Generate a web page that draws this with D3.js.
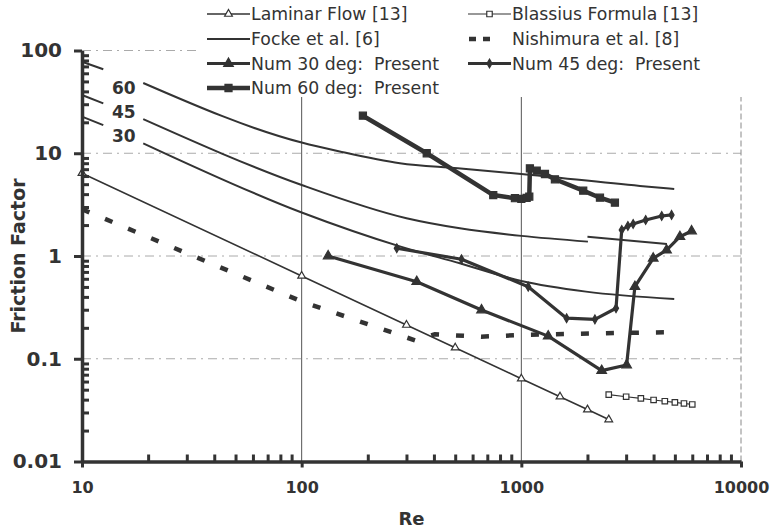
<!DOCTYPE html>
<html>
<head>
<meta charset="utf-8">
<script src="https://cdn.jsdelivr.net/npm/d3@7"></script>
<style>
  body { margin: 0; background: #fff; }
  text { font-family: "DejaVu Sans", sans-serif; fill: #333; }
</style>
</head>
<body>
<div id="chart"></div>
<script>
// data (Re, friction factor)
const reLaminar = [10, 100, 300, 500, 1000, 1500, 2000, 2500];
const fLaminar = [6.4, 0.64, 0.213, 0.128, 0.064, 0.0427, 0.032, 0.0256];

const reBlasius = [2500, 3000, 3500, 4000, 4500, 5000, 5500, 6000];
const fBlasius = [0.0447, 0.0427, 0.0411, 0.0397, 0.0386, 0.0376, 0.0367, 0.0359];

// null = break in the line (label sits there)
const reFocke60 = [10, 12.5, 15, 19, 100, 149, 280, 514, 1000, 3467, 4966];
const fFocke60 = [77.8, 65.6, null, 48.3, 12.7, 10.4, 7.99, 7.14, 6.28, 4.8, 4.49];
const reFocke45 = [10, 12.5, 15, 19, 100, 300, 525, 1000, 2010];
const fFocke45 = [36.9, 30.6, null, 21.5, 4.91, 2.33, 1.86, 1.57, 1.38];
const reFocke45b = [2000, 4600];
const fFocke45b = [1.54, 1.31];
const reFocke30 = [10, 12.5, 15, 19, 100, 280, 525, 1000, 1970, 4966];
const fFocke30 = [22.7, 18.8, null, 12.5, 2.65, 1.24, 0.849, 0.571, 0.45, 0.382];

const reNishimura = [10, 83, 100, 328, 404, 656, 1050, 2717, 4745];
const fNishimura = [2.85, 0.427, 0.361, 0.151, 0.173, 0.164, 0.171, 0.178, 0.181];

const reNum30 = [132, 334, 659, 1325, 2321, 3015, 3288, 3984, 4581, 5272, 5957];
const fNum30 = [1.0, 0.562, 0.298, 0.166, 0.0766, 0.0869, 0.503, 0.95, 1.14, 1.54, 1.75];

const reNum45 = [271, 534, 1075, 1607, 2163, 2698, 2864, 3055, 3228, 3681, 4355, 4830];
const fNum45 = [1.19, 0.929, 0.503, 0.248, 0.242, 0.31, 1.79, 1.96, 2.05, 2.24, 2.45, 2.51];

const reNum60 = [190, 371, 745, 935, 1000, 1057, 1087, 1094, 1175, 1281, 1422, 1913, 2280, 2667];
const fNum60 = [23.2, 10.0, 3.92, 3.65, 3.59, 3.67, 3.78, 7.14, 6.77, 6.28, 5.58, 4.32, 3.69, 3.3];

const xTickValues = [10, 100, 1000, 10000];
const xTickLabels = ["10", "100", "1000", "10000"];
const yTickValues = [0.01, 0.1, 1, 10, 100];
const yTickLabels = ["0.01", "0.1", "1", "10", "100"];

const angleLabels = ["60", "45", "30"];
const angleLabelRe = 13.7;
const angleLabelF = [43, 25.4, 14.8];

const W = 773, H = 531;
const margin = { top: 50.5, right: 32, bottom: 69.5, left: 82 };
const width = W - margin.left - margin.right;
const height = H - margin.top - margin.bottom;
const ink = "#333";

const svg = d3.select("#chart").append("svg")
    .attr("width", W)
    .attr("height", H);

const g = svg.append("g")
    .attr("transform", `translate(${margin.left},${margin.top})`);

const x = d3.scaleLog().domain([10, 10000]).range([0, width]);
const y = d3.scaleLog().domain([0.01, 100]).range([height, 0]);

const pts = (re, f) => re.map((r, i) => ({ re: r, f: f[i] }));

// grid
g.selectAll(".hgrid")
    .data(yTickValues.slice(1))
    .enter().append("line")
    .attr("x1", 0).attr("x2", width)
    .attr("y1", d => y(d)).attr("y2", d => y(d))
    .attr("stroke", "#aaa").attr("stroke-width", 1)
    .attr("stroke-dasharray", "9,5,2,5");

g.selectAll(".vgrid")
    .data(xTickValues.slice(1))
    .enter().append("line")
    .attr("x1", d => x(d)).attr("x2", d => x(d))
    .attr("y1", 0).attr("y2", height)
    .attr("stroke", d => d === 10000 ? "#888" : "#555")
    .attr("stroke-width", 1)
    .attr("stroke-dasharray", d => d === 10000 ? "6,3" : null);

// legend box covers the top of the plot
const legendBox = svg.append("g");
legendBox.append("rect")
    .attr("x", 200).attr("y", 0)
    .attr("width", 550).attr("height", 97)
    .attr("fill", "#fff");

const line = d3.line()
    .defined(d => d.f != null)
    .x(d => x(d.re))
    .y(d => y(d.f));

const smooth = d3.line()
    .defined(d => d.f != null)
    .curve(d3.curveMonotoneX)
    .x(d => x(d.re))
    .y(d => y(d.f));

// Focke
[[reFocke60, fFocke60], [reFocke45, fFocke45], [reFocke45b, fFocke45b], [reFocke30, fFocke30]]
    .forEach(([re, f]) => {
        g.append("path")
            .datum(pts(re, f))
            .attr("d", smooth)
            .attr("fill", "none")
            .attr("stroke", ink)
            .attr("stroke-width", 2);
    });

// Nishimura
g.append("path")
    .datum(pts(reNishimura, fNishimura))
    .attr("d", line)
    .attr("fill", "none")
    .attr("stroke", ink)
    .attr("stroke-width", 4.5)
    .attr("stroke-dasharray", "8,17");

// series with markers
const series = [
    { re: reLaminar, f: fLaminar, w: 1.6, sym: d3.symbolTriangle, size: 26, fill: "#fff" },
    { re: reBlasius, f: fBlasius, w: 1.2, sym: d3.symbolSquare, size: 30, fill: "#fff" },
    { re: reNum30, f: fNum30, w: 3.2, sym: d3.symbolTriangle, size: 40, fill: ink },
    { re: reNum45, f: fNum45, w: 3.2, sym: d3.symbolDiamond, size: 22, fill: ink },
    { re: reNum60, f: fNum60, w: 4.5, sym: d3.symbolSquare, size: 50, fill: ink }
];

series.forEach(s => {
    const data = pts(s.re, s.f);
    g.append("path")
        .datum(data)
        .attr("d", line)
        .attr("fill", "none")
        .attr("stroke", ink)
        .attr("stroke-width", s.w)
        .attr("stroke-linejoin", "round");
    g.selectAll(null)
        .data(data)
        .enter().append("path")
        .attr("transform", d => `translate(${x(d.re)},${y(d.f)})`)
        .attr("d", d3.symbol().type(s.sym).size(s.size))
        .attr("fill", s.fill)
        .attr("stroke", ink)
        .attr("stroke-width", 1.2);
});

// angle labels on Focke curves
g.selectAll(".alabel")
    .data(angleLabels)
    .enter().append("text")
    .attr("x", x(angleLabelRe))
    .attr("y", (d, i) => y(angleLabelF[i]))
    .attr("dy", "0.36em")
    .attr("font-size", 17)
    .attr("font-weight", "bold")
    .text(d => d);

// axes
const minorY = y.ticks().filter(v => !yTickValues.includes(v));
const minorX = x.ticks().filter(v => !xTickValues.includes(v));

g.append("g")
    .call(d3.axisLeft(y).tickValues(minorY).tickSize(-7).tickFormat(""))
    .call(a => a.select(".domain").remove())
    .selectAll("line").attr("stroke", ink).attr("stroke-width", 3);

g.append("g")
    .attr("transform", `translate(0,${height})`)
    .call(d3.axisBottom(x).tickValues(minorX).tickSize(-7).tickFormat(""))
    .call(a => a.select(".domain").remove())
    .selectAll("line").attr("stroke", ink).attr("stroke-width", 3);

const yAxis = g.append("g")
    .call(d3.axisLeft(y).tickValues(yTickValues).tickSize(8).tickSizeOuter(0)
        .tickPadding(12).tickFormat((d, i) => yTickLabels[i]));
yAxis.select(".domain").attr("stroke", ink).attr("stroke-width", 3.5);
yAxis.selectAll("line").attr("stroke", ink).attr("stroke-width", 3);
yAxis.selectAll("text")
    .attr("font-size", 20).attr("font-weight", "bold")
    .attr("font-family", "DejaVu Sans").attr("fill", ink);

const xAxis = g.append("g")
    .attr("transform", `translate(0,${height})`)
    .call(d3.axisBottom(x).tickValues(xTickValues).tickSize(6).tickSizeOuter(0)
        .tickPadding(14).tickFormat((d, i) => xTickLabels[i]));
xAxis.select(".domain").attr("stroke", ink).attr("stroke-width", 3.5);
xAxis.selectAll("line").attr("stroke", ink).attr("stroke-width", 3);
xAxis.selectAll("text")
    .attr("font-size", 16).attr("font-weight", "bold")
    .attr("font-family", "DejaVu Sans").attr("fill", ink);

// axis titles
svg.append("text")
    .attr("x", margin.left + width / 2)
    .attr("y", 525)
    .attr("text-anchor", "middle")
    .attr("font-size", 18).attr("font-weight", "bold")
    .text("Re");

svg.append("text")
    .attr("transform", `translate(25,${margin.top + height / 2}) rotate(-90)`)
    .attr("text-anchor", "middle")
    .attr("font-size", 19).attr("font-weight", "bold")
    .text("Friction Factor");

// legend
const legendItems = [
    { name: "Laminar Flow [13]", col: 0, row: 0, w: 1.6, sym: d3.symbolTriangle, size: 26, fill: "#fff" },
    { name: "Focke et al. [6]", col: 0, row: 1, w: 2 },
    { name: "Num 30 deg:  Present", col: 0, row: 2, w: 3.2, sym: d3.symbolTriangle, size: 40, fill: ink },
    { name: "Num 60 deg:  Present", col: 0, row: 3, w: 4.5, sym: d3.symbolSquare, size: 50, fill: ink },
    { name: "Blassius Formula [13]", col: 1, row: 0, w: 1.2, sym: d3.symbolSquare, size: 30, fill: "#fff" },
    { name: "Nishimura et al. [8]", col: 1, row: 1, w: 4.5, dash: "7,7" },
    { name: "Num 45 deg:  Present", col: 1, row: 2, w: 3.2, sym: d3.symbolDiamond, size: 22, fill: ink }
];
const colX = [207, 468];
const rowY = [14, 39, 63.5, 88];
const sampleLen = 43;

const li = legendBox.selectAll(".li")
    .data(legendItems)
    .enter().append("g")
    .attr("transform", d => `translate(${colX[d.col]},${rowY[d.row]})`);

li.append("line")
    .attr("x1", d => d.dash ? 1 : 0)
    .attr("x2", d => d.dash ? 23 : sampleLen)
    .attr("stroke", ink)
    .attr("stroke-width", d => d.w)
    .attr("stroke-dasharray", d => d.dash || null);

li.filter(d => d.sym)
    .append("path")
    .attr("transform", `translate(${sampleLen / 2},0)`)
    .attr("d", d => d3.symbol().type(d.sym).size(d.size)())
    .attr("fill", d => d.fill)
    .attr("stroke", ink)
    .attr("stroke-width", 1.2);

li.append("text")
    .attr("x", sampleLen + 1)
    .attr("dy", "0.36em")
    .attr("font-size", 17.3)
    .style("white-space", "pre")
    .text(d => d.name);
</script>
</body>
</html>
